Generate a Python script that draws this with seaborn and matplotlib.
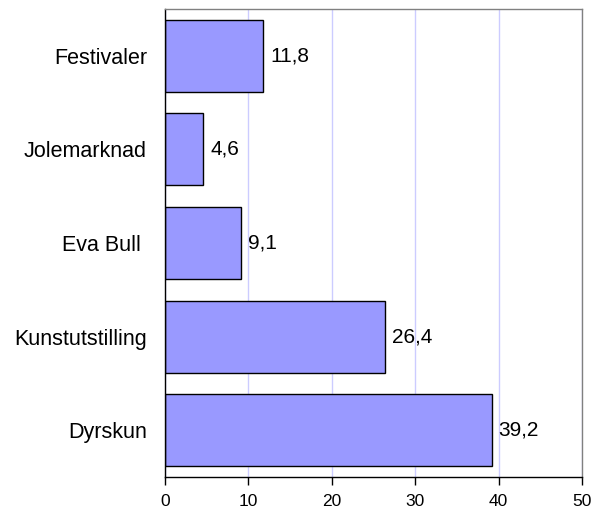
import matplotlib
matplotlib.use("Agg")
import matplotlib.pyplot as plt
import seaborn as sns
import numpy as np

categories = ["Festivaler", "Jolemarknad", "Eva Bull ", "Kunstutstilling", "Dyrskun"]
values = [11.8, 4.6, 9.1, 26.4, 39.2]
x_ticks = [0, 10, 20, 30, 40, 50]

sns.set_theme(style="white")
plt.rcParams["font.family"] = ["Liberation Sans", "DejaVu Sans"]
plt.rcParams["text.color"] = "black"
plt.rcParams["xtick.color"] = "black"
plt.rcParams["ytick.color"] = "black"

fig = plt.figure(figsize=(6.05, 5.13), dpi=100)
ax = fig.add_axes([0.2727, 0.0702, 0.962 - 0.2727, 0.9825 - 0.0702])

sns.barplot(x=values, y=categories, orient="h", color="#9999FF",
            edgecolor="black", linewidth=1, width=0.77, saturation=1, ax=ax)

ax.set_xlim(0, 50)
ax.set_ylim(len(categories) - 0.5, -0.5)
ax.set_xticks(x_ticks)
ax.set_xticklabels([str(t) for t in x_ticks], fontsize=12.5)
ax.xaxis.grid(True, color="#ccccff", linewidth=1)
ax.set_axisbelow(True)

ax.set_yticks(range(len(categories)))
ax.set_yticklabels(categories, fontsize=15.5)
ax.tick_params(axis="y", which="major", length=0, pad=13)
ax.set_yticks(np.arange(-0.5, len(categories), 1), minor=True)
ax.tick_params(axis="y", which="minor", length=6, width=1, color="black", direction="out")
ax.tick_params(axis="x", which="major", length=6, width=1, color="black",
               direction="out", pad=6, bottom=True)

for s in ["left", "bottom"]:
    ax.spines[s].set_color("black")
    ax.spines[s].set_linewidth(1)
for s in ["top", "right"]:
    ax.spines[s].set_color("#808080")
    ax.spines[s].set_linewidth(1)

for i, v in enumerate(values):
    ax.text(v + 0.8, i, f"{v:.1f}".replace(".", ","), va="center", ha="left", fontsize=15)

ax.set_xlabel("")
ax.set_ylabel("")
fig.savefig("out.png", dpi=100, facecolor="white")
